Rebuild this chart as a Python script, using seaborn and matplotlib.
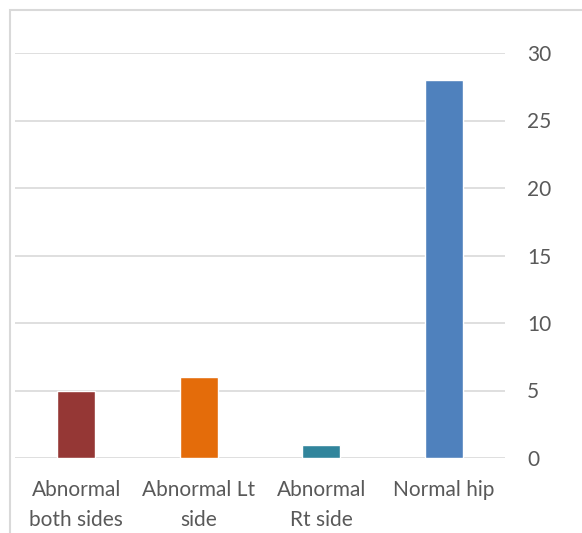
from matplotlib import pyplot as plt
from matplotlib.patches import Rectangle
import seaborn as sns

categories = ['Abnormal\nboth sides', 'Abnormal Lt\nside', 'Abnormal\nRt side', 'Normal hip']
counts = [5, 6, 1, 28]
colors = ['#953735', '#E46C0A', '#31859C', '#4F81BD']
y_ticks = [0, 5, 10, 15, 20, 25, 30]

if __name__ == "__main__":
    sns.set_style('white')
    plt.rcParams['font.family'] = ['Lato', 'DejaVu Sans']

    fig = plt.figure(figsize=(5.82, 5.33), dpi=100)
    ax = fig.add_axes([15 / 582, 1 - 458 / 533, 490 / 582, 405 / 533])

    sns.barplot(x=categories, y=counts, hue=categories, palette=colors,
                width=0.31, saturation=1, legend=False, ax=ax)

    ax.set_ylim(0, 30)
    ax.set_xlim(-0.5, 3.5)
    ax.set_yticks(y_ticks)
    ax.yaxis.tick_right()
    ax.grid(axis='y', color='#d9d9d9', lw=1.2)
    ax.set_axisbelow(True)
    for s in ax.spines.values():
        s.set_visible(False)
    ax.tick_params(axis='y', length=0, pad=16, labelsize=15, labelcolor='#595959')
    ax.tick_params(axis='x', length=0, pad=16, labelsize=15, labelcolor='#595959')
    for lbl in ax.get_xticklabels():
        lbl.set_linespacing(1.6)

    # chart frame
    fig.patches.append(Rectangle((10 / 582, -0.1), 1.2, 1.1 - 10 / 533,
                                 transform=fig.transFigure, fill=False,
                                 edgecolor='#d9d9d9', lw=1.5))

    fig.savefig('out.png', dpi=100)
